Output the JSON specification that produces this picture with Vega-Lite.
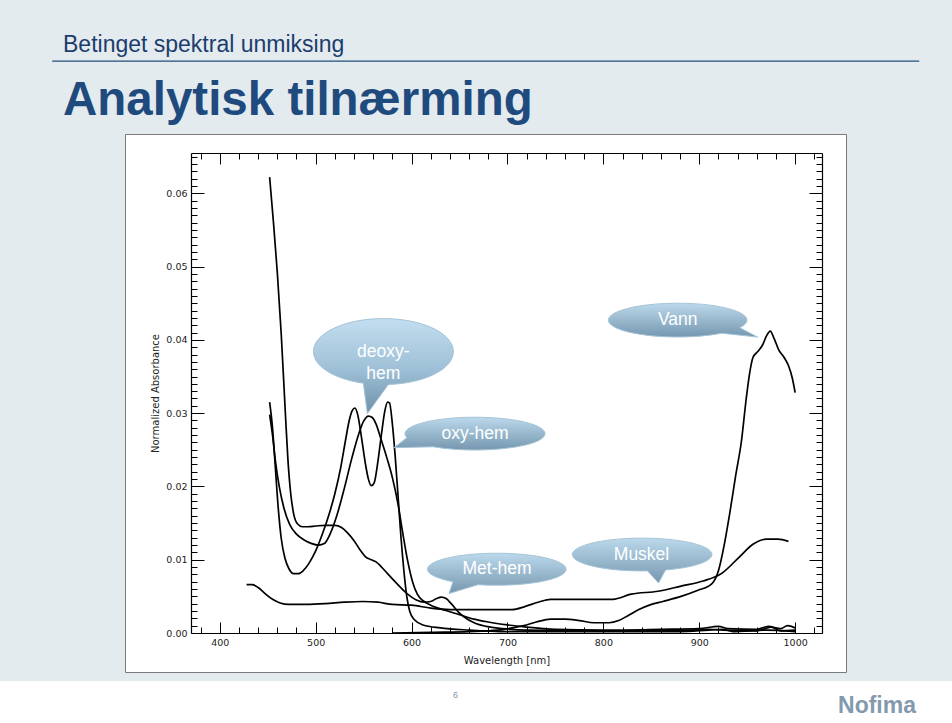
{
  "$schema": "https://vega.github.io/schema/vega-lite/v6.json",
  "background": "#e4ebee",
  "autosize": {"type": "pad"},
  "padding": {"left": 0, "top": 33, "right": 0, "bottom": 0},
  "config": {"view": {"stroke": null}, "font": "Liberation Sans"},
  "title": {"text": "Nofima", "orient": "bottom", "anchor": "end", "frame": "bounds", "dx": -55, "offset": -18, "baseline": "middle", "fontSize": 23, "fontWeight": "bold", "color": "#8399ae", "font": "Liberation Sans"},
  "datasets": {
    "spectra": [
      {"series": "met", "nm": 452, "a": 0.0622}, {"series": "met", "nm": 456, "a": 0.056}, {"series": "met", "nm": 460, "a": 0.0492}, {"series": "met", "nm": 464, "a": 0.041}, {"series": "met", "nm": 468, "a": 0.031}, {"series": "met", "nm": 471, "a": 0.0238}, {"series": "met", "nm": 474, "a": 0.019}, {"series": "met", "nm": 477, "a": 0.0163}, {"series": "met", "nm": 481, "a": 0.0149}, {"series": "met", "nm": 486, "a": 0.0145}, {"series": "met", "nm": 492, "a": 0.0145}, {"series": "met", "nm": 500, "a": 0.0146}, {"series": "met", "nm": 510, "a": 0.0147}, {"series": "met", "nm": 520, "a": 0.0147}, {"series": "met", "nm": 527, "a": 0.0144}, {"series": "met", "nm": 533, "a": 0.0137}, {"series": "met", "nm": 540, "a": 0.0126}, {"series": "met", "nm": 546, "a": 0.0114}, {"series": "met", "nm": 552, "a": 0.0104}, {"series": "met", "nm": 558, "a": 0.01}, {"series": "met", "nm": 563, "a": 0.0097}, {"series": "met", "nm": 568, "a": 0.0091}, {"series": "met", "nm": 575, "a": 0.0081}, {"series": "met", "nm": 585, "a": 0.0067}, {"series": "met", "nm": 595, "a": 0.0054}, {"series": "met", "nm": 605, "a": 0.0045}, {"series": "met", "nm": 613, "a": 0.0042}, {"series": "met", "nm": 620, "a": 0.0043}, {"series": "met", "nm": 626, "a": 0.0047}, {"series": "met", "nm": 631, "a": 0.0049}, {"series": "met", "nm": 636, "a": 0.0047}, {"series": "met", "nm": 642, "a": 0.0039}, {"series": "met", "nm": 650, "a": 0.0027}, {"series": "met", "nm": 658, "a": 0.0019}, {"series": "met", "nm": 667, "a": 0.0013}, {"series": "met", "nm": 678, "a": 0.0009}, {"series": "met", "nm": 695, "a": 0.0006}, {"series": "met", "nm": 720, "a": 0.0004}, {"series": "met", "nm": 800, "a": 0.0003}, {"series": "met", "nm": 880, "a": 0.0003}, {"series": "met", "nm": 910, "a": 0.0005}, {"series": "met", "nm": 925, "a": 0.0004}, {"series": "met", "nm": 960, "a": 0.0003}, {"series": "met", "nm": 975, "a": 0.0008}, {"series": "met", "nm": 985, "a": 0.0003}, {"series": "met", "nm": 1000, "a": 0.0004},
      {"series": "oxy", "nm": 452, "a": 0.0315}, {"series": "oxy", "nm": 455, "a": 0.028}, {"series": "oxy", "nm": 458, "a": 0.0225}, {"series": "oxy", "nm": 461, "a": 0.017}, {"series": "oxy", "nm": 464, "a": 0.013}, {"series": "oxy", "nm": 468, "a": 0.0102}, {"series": "oxy", "nm": 472, "a": 0.0088}, {"series": "oxy", "nm": 477, "a": 0.0081}, {"series": "oxy", "nm": 482, "a": 0.0081}, {"series": "oxy", "nm": 487, "a": 0.0085}, {"series": "oxy", "nm": 493, "a": 0.0095}, {"series": "oxy", "nm": 500, "a": 0.0112}, {"series": "oxy", "nm": 507, "a": 0.0135}, {"series": "oxy", "nm": 514, "a": 0.0162}, {"series": "oxy", "nm": 520, "a": 0.019}, {"series": "oxy", "nm": 526, "a": 0.0225}, {"series": "oxy", "nm": 531, "a": 0.0262}, {"series": "oxy", "nm": 535, "a": 0.029}, {"series": "oxy", "nm": 538, "a": 0.0303}, {"series": "oxy", "nm": 541, "a": 0.0307}, {"series": "oxy", "nm": 544, "a": 0.0297}, {"series": "oxy", "nm": 548, "a": 0.0265}, {"series": "oxy", "nm": 552, "a": 0.023}, {"series": "oxy", "nm": 555, "a": 0.021}, {"series": "oxy", "nm": 558, "a": 0.0201}, {"series": "oxy", "nm": 561, "a": 0.0205}, {"series": "oxy", "nm": 565, "a": 0.0235}, {"series": "oxy", "nm": 569, "a": 0.0275}, {"series": "oxy", "nm": 572, "a": 0.0302}, {"series": "oxy", "nm": 575, "a": 0.0315}, {"series": "oxy", "nm": 577, "a": 0.0314}, {"series": "oxy", "nm": 580, "a": 0.0285}, {"series": "oxy", "nm": 583, "a": 0.024}, {"series": "oxy", "nm": 586, "a": 0.0185}, {"series": "oxy", "nm": 589, "a": 0.013}, {"series": "oxy", "nm": 592, "a": 0.0085}, {"series": "oxy", "nm": 595, "a": 0.005}, {"series": "oxy", "nm": 598, "a": 0.003}, {"series": "oxy", "nm": 603, "a": 0.0018}, {"series": "oxy", "nm": 612, "a": 0.0011}, {"series": "oxy", "nm": 630, "a": 0.0007}, {"series": "oxy", "nm": 660, "a": 0.0004}, {"series": "oxy", "nm": 700, "a": 0.0002}, {"series": "oxy", "nm": 800, "a": 0.0002}, {"series": "oxy", "nm": 880, "a": 0.0002}, {"series": "oxy", "nm": 910, "a": 0.0004}, {"series": "oxy", "nm": 925, "a": 0.0005}, {"series": "oxy", "nm": 935, "a": 0.0002}, {"series": "oxy", "nm": 970, "a": 0.0004}, {"series": "oxy", "nm": 1000, "a": 0.0002},
      {"series": "deoxy", "nm": 452, "a": 0.0298}, {"series": "deoxy", "nm": 455, "a": 0.027}, {"series": "deoxy", "nm": 458, "a": 0.0235}, {"series": "deoxy", "nm": 462, "a": 0.02}, {"series": "deoxy", "nm": 467, "a": 0.017}, {"series": "deoxy", "nm": 473, "a": 0.0148}, {"series": "deoxy", "nm": 480, "a": 0.0135}, {"series": "deoxy", "nm": 488, "a": 0.0127}, {"series": "deoxy", "nm": 496, "a": 0.0122}, {"series": "deoxy", "nm": 503, "a": 0.012}, {"series": "deoxy", "nm": 509, "a": 0.0122}, {"series": "deoxy", "nm": 515, "a": 0.0135}, {"series": "deoxy", "nm": 522, "a": 0.016}, {"series": "deoxy", "nm": 530, "a": 0.0198}, {"series": "deoxy", "nm": 538, "a": 0.024}, {"series": "deoxy", "nm": 545, "a": 0.0272}, {"series": "deoxy", "nm": 550, "a": 0.0289}, {"series": "deoxy", "nm": 555, "a": 0.0296}, {"series": "deoxy", "nm": 559, "a": 0.0294}, {"series": "deoxy", "nm": 563, "a": 0.0285}, {"series": "deoxy", "nm": 568, "a": 0.0265}, {"series": "deoxy", "nm": 574, "a": 0.024}, {"series": "deoxy", "nm": 580, "a": 0.0212}, {"series": "deoxy", "nm": 586, "a": 0.0175}, {"series": "deoxy", "nm": 591, "a": 0.0135}, {"series": "deoxy", "nm": 596, "a": 0.0098}, {"series": "deoxy", "nm": 601, "a": 0.007}, {"series": "deoxy", "nm": 606, "a": 0.0053}, {"series": "deoxy", "nm": 612, "a": 0.0044}, {"series": "deoxy", "nm": 620, "a": 0.0038}, {"series": "deoxy", "nm": 635, "a": 0.0031}, {"series": "deoxy", "nm": 650, "a": 0.0025}, {"series": "deoxy", "nm": 665, "a": 0.0019}, {"series": "deoxy", "nm": 680, "a": 0.0015}, {"series": "deoxy", "nm": 700, "a": 0.0011}, {"series": "deoxy", "nm": 720, "a": 0.0008}, {"series": "deoxy", "nm": 750, "a": 0.0005}, {"series": "deoxy", "nm": 800, "a": 0.0004}, {"series": "deoxy", "nm": 860, "a": 0.0005}, {"series": "deoxy", "nm": 900, "a": 0.0006}, {"series": "deoxy", "nm": 920, "a": 0.0009}, {"series": "deoxy", "nm": 930, "a": 0.0006}, {"series": "deoxy", "nm": 960, "a": 0.0005}, {"series": "deoxy", "nm": 972, "a": 0.0009}, {"series": "deoxy", "nm": 985, "a": 0.0006}, {"series": "deoxy", "nm": 992, "a": 0.001}, {"series": "deoxy", "nm": 1000, "a": 0.0007},
      {"series": "muskel", "nm": 428, "a": 0.0066}, {"series": "muskel", "nm": 434, "a": 0.0066}, {"series": "muskel", "nm": 440, "a": 0.0062}, {"series": "muskel", "nm": 447, "a": 0.0054}, {"series": "muskel", "nm": 455, "a": 0.0046}, {"series": "muskel", "nm": 463, "a": 0.0041}, {"series": "muskel", "nm": 472, "a": 0.0039}, {"series": "muskel", "nm": 490, "a": 0.0039}, {"series": "muskel", "nm": 510, "a": 0.004}, {"series": "muskel", "nm": 530, "a": 0.0042}, {"series": "muskel", "nm": 549, "a": 0.0043}, {"series": "muskel", "nm": 565, "a": 0.0042}, {"series": "muskel", "nm": 580, "a": 0.0039}, {"series": "muskel", "nm": 600, "a": 0.0038}, {"series": "muskel", "nm": 620, "a": 0.0034}, {"series": "muskel", "nm": 640, "a": 0.0032}, {"series": "muskel", "nm": 670, "a": 0.0032}, {"series": "muskel", "nm": 705, "a": 0.0032}, {"series": "muskel", "nm": 718, "a": 0.0036}, {"series": "muskel", "nm": 732, "a": 0.0042}, {"series": "muskel", "nm": 745, "a": 0.0046}, {"series": "muskel", "nm": 770, "a": 0.0046}, {"series": "muskel", "nm": 810, "a": 0.0046}, {"series": "muskel", "nm": 829, "a": 0.0053}, {"series": "muskel", "nm": 857, "a": 0.0057}, {"series": "muskel", "nm": 881, "a": 0.0064}, {"series": "muskel", "nm": 904, "a": 0.0071}, {"series": "muskel", "nm": 923, "a": 0.0081}, {"series": "muskel", "nm": 942, "a": 0.0104}, {"series": "muskel", "nm": 956, "a": 0.0121}, {"series": "muskel", "nm": 970, "a": 0.0128}, {"series": "muskel", "nm": 982, "a": 0.0128}, {"series": "muskel", "nm": 993, "a": 0.0125},
      {"series": "vann", "nm": 580, "a": 0.0}, {"series": "vann", "nm": 620, "a": 0.0001}, {"series": "vann", "nm": 660, "a": 0.0002}, {"series": "vann", "nm": 690, "a": 0.0004}, {"series": "vann", "nm": 705, "a": 0.0007}, {"series": "vann", "nm": 717, "a": 0.001}, {"series": "vann", "nm": 730, "a": 0.0015}, {"series": "vann", "nm": 745, "a": 0.0019}, {"series": "vann", "nm": 760, "a": 0.0019}, {"series": "vann", "nm": 775, "a": 0.0017}, {"series": "vann", "nm": 790, "a": 0.0014}, {"series": "vann", "nm": 806, "a": 0.0014}, {"series": "vann", "nm": 816, "a": 0.0017}, {"series": "vann", "nm": 826, "a": 0.0024}, {"series": "vann", "nm": 837, "a": 0.0032}, {"series": "vann", "nm": 848, "a": 0.0038}, {"series": "vann", "nm": 862, "a": 0.0043}, {"series": "vann", "nm": 881, "a": 0.005}, {"series": "vann", "nm": 898, "a": 0.0058}, {"series": "vann", "nm": 913, "a": 0.0067}, {"series": "vann", "nm": 920, "a": 0.0085}, {"series": "vann", "nm": 926, "a": 0.012}, {"series": "vann", "nm": 932, "a": 0.0165}, {"series": "vann", "nm": 938, "a": 0.0215}, {"series": "vann", "nm": 944, "a": 0.0262}, {"series": "vann", "nm": 949, "a": 0.032}, {"series": "vann", "nm": 952, "a": 0.035}, {"series": "vann", "nm": 956, "a": 0.0376}, {"series": "vann", "nm": 961, "a": 0.0384}, {"series": "vann", "nm": 966, "a": 0.0393}, {"series": "vann", "nm": 970, "a": 0.0405}, {"series": "vann", "nm": 974, "a": 0.0412}, {"series": "vann", "nm": 978, "a": 0.0402}, {"series": "vann", "nm": 983, "a": 0.0386}, {"series": "vann", "nm": 988, "a": 0.0377}, {"series": "vann", "nm": 993, "a": 0.0365}, {"series": "vann", "nm": 997, "a": 0.0348}, {"series": "vann", "nm": 1000, "a": 0.0328}
    ],
    "callouts": [
      {"id": "deoxy", "label": "deoxy-\nhem", "nm": 570.6, "a": 0.0384},
      {"id": "oxy", "label": "oxy-hem", "nm": 666.2, "a": 0.0272},
      {"id": "vann", "label": "Vann", "nm": 877.5, "a": 0.0427},
      {"id": "met", "label": "Met-hem", "nm": 689.1, "a": 0.0087},
      {"id": "muskel", "label": "Muskel", "nm": 839.8, "a": 0.0107}
    ]
  },
  "vconcat": [
    {
      "width": 867,
      "height": 64,
      "view": {"stroke": "#1f4e79", "strokeWidth": 1.3, "strokeDash": [867, 3000], "fill": null},
      "title": {"text": "Betinget spektral unmiksing", "anchor": "start", "frame": "group", "dx": 11, "offset": -14, "baseline": "alphabetic", "fontSize": 23, "fontWeight": "normal", "color": "#1b3d6e", "font": "Liberation Sans"},
      "data": {"values": []},
      "mark": "text"
    },
    {
      "width": 721,
      "height": 538,
      "view": {"fill": "white", "stroke": "#7a7a7a", "strokeWidth": 1},
      "title": {"text": "Analytisk tilnærming", "anchor": "start", "frame": "group", "dx": -62, "offset": -28, "baseline": "alphabetic", "fontSize": 47.5, "fontWeight": "bold", "color": "#1f4a7e", "font": "Liberation Sans"},
      "resolve": {"axis": {"x": "independent", "y": "independent"}},
      "layer": [
        {
          "data": {"name": "spectra"},
          "mark": {"type": "line", "color": "black", "strokeWidth": 1.7, "interpolate": "monotone"},
          "encoding": {
            "x": {"field": "nm", "type": "quantitative",
              "scale": {"domain": [370, 1028], "range": [66, 697], "nice": false, "zero": false},
              "axis": {"orient": "bottom", "offset": -39,
                "values": [380, 400, 420, 440, 460, 480, 500, 520, 540, 560, 580, 600, 620, 640, 660, 680, 700, 720, 740, 760, 780, 800, 820, 840, 860, 880, 900, 920, 940, 960, 980, 1000, 1020],
                "tickSize": {"condition": {"test": "datum.value % 100 === 0", "value": -11}, "value": -6},
                "tickColor": "black", "tickWidth": 1,
                "format": "d",
                "labelExpr": "datum.value % 100 === 0 ? datum.label : ''",
                "labelPadding": 15, "labelFont": "DejaVu Sans", "labelFontSize": 9.5, "labelColor": "#222222",
                "labelOverlap": false, "labelFlush": false, "labelBound": false,
                "domain": true, "domainColor": "black", "domainWidth": 1.2, "grid": false,
                "title": "Wavelength [nm]", "titleFont": "DejaVu Sans", "titleFontSize": 10, "titleFontWeight": "normal", "titleColor": "#222222", "titlePadding": 4}},
            "y": {"field": "a", "type": "quantitative",
              "scale": {"domain": [0, 0.0655], "range": [499, 19], "nice": false, "zero": false},
              "axis": {"orient": "left", "offset": -66,
                "values": [0, 0.001, 0.002, 0.003, 0.004, 0.005, 0.006, 0.007, 0.008, 0.009, 0.01, 0.011, 0.012, 0.013, 0.014, 0.015, 0.016, 0.017, 0.018, 0.019, 0.02, 0.021, 0.022, 0.023, 0.024, 0.025, 0.026, 0.027, 0.028, 0.029, 0.03, 0.031, 0.032, 0.033, 0.034, 0.035, 0.036, 0.037, 0.038, 0.039, 0.04, 0.041, 0.042, 0.043, 0.044, 0.045, 0.046, 0.047, 0.048, 0.049, 0.05, 0.051, 0.052, 0.053, 0.054, 0.055, 0.056, 0.057, 0.058, 0.059, 0.06, 0.061, 0.062, 0.063, 0.064, 0.065],
                "tickSize": {"condition": {"test": "abs(datum.value*100 - round(datum.value*100)) < 0.001", "value": -13}, "value": -6},
                "tickColor": "black", "tickWidth": 1,
                "format": ".2f",
                "labelExpr": "abs(datum.value*100 - round(datum.value*100)) < 0.001 ? datum.label : ''",
                "labelPadding": 17, "labelFont": "DejaVu Sans", "labelFontSize": 9.5, "labelColor": "#222222",
                "labelOverlap": false, "labelFlush": false, "labelBound": false,
                "domain": true, "domainColor": "black", "domainWidth": 1.2, "grid": false,
                "title": "Normalized Absorbance", "titleFont": "DejaVu Sans", "titleFontSize": 10, "titleFontWeight": "normal", "titleColor": "#222222", "titlePadding": 5}},
            "detail": {"field": "series"}
          }
        },
        {
          "data": {"name": "callouts"},
          "transform": [{"filter": "datum.id === 'deoxy'"}],
          "mark": {"type": "point", "shape": "M-20,31.6 A70,33 0 1 1 5,32.9 L-16,62 Z", "size": 4, "filled": true, "opacity": 1,
            "fill": {"gradient": "linear", "x1": 0, "y1": 0, "x2": 0, "y2": 1, "stops": [{"offset": 0, "color": "#c3def0"}, {"offset": 0.55, "color": "#9dbfd5"}, {"offset": 1, "color": "#6e90a8"}]},
            "stroke": "#a6c4d7", "strokeWidth": 1},
          "encoding": {
            "x": {"field": "nm", "type": "quantitative", "scale": {"domain": [370, 1028], "range": [66, 697], "nice": false, "zero": false}, "axis": null},
            "y": {"field": "a", "type": "quantitative", "scale": {"domain": [0, 0.0655], "range": [499, 19], "nice": false, "zero": false}, "axis": null}
          }
        },
        {
          "data": {"name": "callouts"},
          "transform": [{"filter": "datum.id === 'oxy'"}],
          "mark": {"type": "point", "shape": "M-68,3.9 A70,16.4 0 1 1 -42,13.1 L-81,14 Z", "size": 4, "filled": true, "opacity": 1,
            "fill": {"gradient": "linear", "x1": 0, "y1": 0, "x2": 0, "y2": 1, "stops": [{"offset": 0, "color": "#bcd9ec"}, {"offset": 1, "color": "#7597af"}]},
            "stroke": "#a6c4d7", "strokeWidth": 1},
          "encoding": {
            "x": {"field": "nm", "type": "quantitative", "scale": {"domain": [370, 1028], "range": [66, 697], "nice": false, "zero": false}, "axis": null},
            "y": {"field": "a", "type": "quantitative", "scale": {"domain": [0, 0.0655], "range": [499, 19], "nice": false, "zero": false}, "axis": null}
          }
        },
        {
          "data": {"name": "callouts"},
          "transform": [{"filter": "datum.id === 'vann'"}],
          "mark": {"type": "point", "shape": "M62,7.6 A69.3,16.9 0 1 0 44,13.1 L80,17 Z", "size": 4, "filled": true, "opacity": 1,
            "fill": {"gradient": "linear", "x1": 0, "y1": 0, "x2": 0, "y2": 1, "stops": [{"offset": 0, "color": "#bcd9ec"}, {"offset": 1, "color": "#7597af"}]},
            "stroke": "#a6c4d7", "strokeWidth": 1},
          "encoding": {
            "x": {"field": "nm", "type": "quantitative", "scale": {"domain": [370, 1028], "range": [66, 697], "nice": false, "zero": false}, "axis": null},
            "y": {"field": "a", "type": "quantitative", "scale": {"domain": [0, 0.0655], "range": [499, 19], "nice": false, "zero": false}, "axis": null}
          }
        },
        {
          "data": {"name": "callouts"},
          "transform": [{"filter": "datum.id === 'met'"}],
          "mark": {"type": "point", "shape": "M-44,12.4 A69.3,16 0 1 1 -19,15.4 L-48,24.3 Z", "size": 4, "filled": true, "opacity": 1,
            "fill": {"gradient": "linear", "x1": 0, "y1": 0, "x2": 0, "y2": 1, "stops": [{"offset": 0, "color": "#bcd9ec"}, {"offset": 1, "color": "#7597af"}]},
            "stroke": "#a6c4d7", "strokeWidth": 1},
          "encoding": {
            "x": {"field": "nm", "type": "quantitative", "scale": {"domain": [370, 1028], "range": [66, 697], "nice": false, "zero": false}, "axis": null},
            "y": {"field": "a", "type": "quantitative", "scale": {"domain": [0, 0.0655], "range": [499, 19], "nice": false, "zero": false}, "axis": null}
          }
        },
        {
          "data": {"name": "callouts"},
          "transform": [{"filter": "datum.id === 'muskel'"}],
          "mark": {"type": "point", "shape": "M6,16.3 A69.8,16.4 0 1 1 24,15.4 L17,28.4 Z", "size": 4, "filled": true, "opacity": 1,
            "fill": {"gradient": "linear", "x1": 0, "y1": 0, "x2": 0, "y2": 1, "stops": [{"offset": 0, "color": "#bcd9ec"}, {"offset": 1, "color": "#7597af"}]},
            "stroke": "#a6c4d7", "strokeWidth": 1},
          "encoding": {
            "x": {"field": "nm", "type": "quantitative", "scale": {"domain": [370, 1028], "range": [66, 697], "nice": false, "zero": false}, "axis": null},
            "y": {"field": "a", "type": "quantitative", "scale": {"domain": [0, 0.0655], "range": [499, 19], "nice": false, "zero": false}, "axis": null}
          }
        },
        {
          "data": {"name": "callouts"},
          "mark": {"type": "text", "color": "white", "fontSize": 17.5, "font": "Liberation Sans", "lineBreak": "\n", "lineHeight": 22, "align": "center", "baseline": "middle"},
          "encoding": {
            "x": {"field": "nm", "type": "quantitative",
              "scale": {"domain": [370, 1028], "range": [66, 697], "nice": false, "zero": false},
              "axis": {"orient": "top", "offset": -19,
                "values": [380, 400, 420, 440, 460, 480, 500, 520, 540, 560, 580, 600, 620, 640, 660, 680, 700, 720, 740, 760, 780, 800, 820, 840, 860, 880, 900, 920, 940, 960, 980, 1000, 1020],
                "tickSize": {"condition": {"test": "datum.value % 100 === 0", "value": -11}, "value": -6},
                "tickColor": "black", "tickWidth": 1, "labels": false,
                "domain": true, "domainColor": "black", "domainWidth": 1.2, "grid": false, "title": null}},
            "y": {"field": "a", "type": "quantitative",
              "scale": {"domain": [0, 0.0655], "range": [499, 19], "nice": false, "zero": false},
              "axis": {"orient": "right", "offset": -24,
                "values": [0, 0.001, 0.002, 0.003, 0.004, 0.005, 0.006, 0.007, 0.008, 0.009, 0.01, 0.011, 0.012, 0.013, 0.014, 0.015, 0.016, 0.017, 0.018, 0.019, 0.02, 0.021, 0.022, 0.023, 0.024, 0.025, 0.026, 0.027, 0.028, 0.029, 0.03, 0.031, 0.032, 0.033, 0.034, 0.035, 0.036, 0.037, 0.038, 0.039, 0.04, 0.041, 0.042, 0.043, 0.044, 0.045, 0.046, 0.047, 0.048, 0.049, 0.05, 0.051, 0.052, 0.053, 0.054, 0.055, 0.056, 0.057, 0.058, 0.059, 0.06, 0.061, 0.062, 0.063, 0.064, 0.065],
                "tickSize": {"condition": {"test": "abs(datum.value*100 - round(datum.value*100)) < 0.001", "value": -13}, "value": -6},
                "tickColor": "black", "tickWidth": 1, "labels": false,
                "domain": true, "domainColor": "black", "domainWidth": 1.2, "grid": false, "title": null}},
            "text": {"field": "label"}
          }
        }
      ]
    },
    {
      "width": 971,
      "height": 43,
      "view": {"fill": "white", "stroke": null},
      "title": {"text": "6", "anchor": "middle", "frame": "group", "dx": -30, "offset": -28, "baseline": "bottom", "fontSize": 9, "fontWeight": "normal", "color": "#8494a8", "font": "Liberation Sans"},
      "data": {"values": []},
      "mark": "text"
    }
  ],
  "spacing": 9,
  "bounds": "flush",
  "center": true
}
